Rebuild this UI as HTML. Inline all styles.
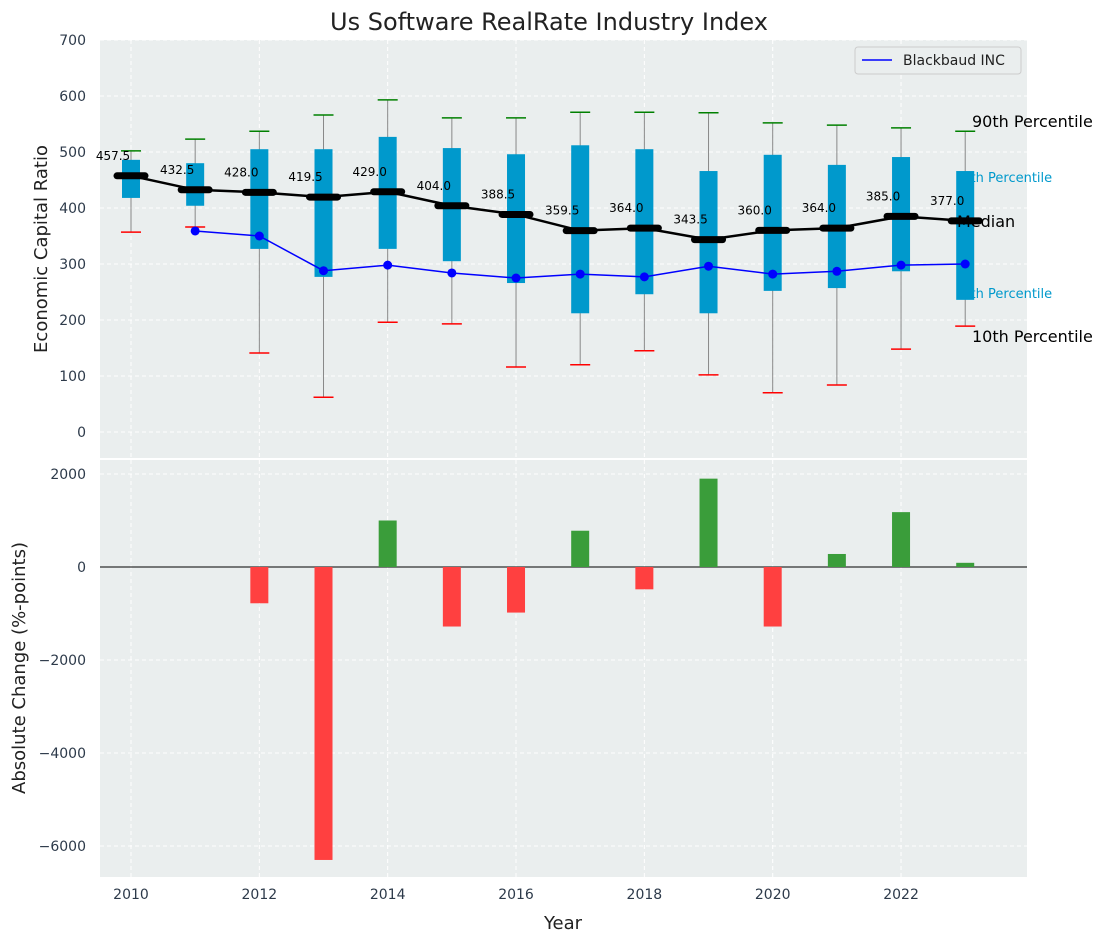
<!DOCTYPE html>
<html><head><meta charset="utf-8"><style>
body{margin:0;background:#fff;font-family:"Liberation Sans","DejaVu Sans",sans-serif}
</style></head><body>
<svg id="c" width="1107" height="942" xmlns="http://www.w3.org/2000/svg" font-family="DejaVu Sans, Liberation Sans, sans-serif"><defs><clipPath id="lc"><rect x="974" y="150" width="133" height="170"/></clipPath></defs></svg>
<script>
const years=[2010,2011,2012,2013,2014,2015,2016,2017,2018,2019,2020,2021,2022,2023];
const p90=[502,523,537,566,593,561,561,571,571,570,552,548,543,537];
const p10=[357,366,141,62,196,193,116,120,145,102,70,84,148,189];
const q3=[486,480,505,505,527,507,496,512,505,466,495,477,491,466];
const q1=[418,404,327,277,327,305,266,212,246,212,252,257,287,236];
const medians=[457.5,432.5,428.0,419.5,429.0,404.0,388.5,359.5,364.0,343.5,360.0,364.0,385.0,377.0];
const bbYears=[2011,2012,2013,2014,2015,2016,2017,2018,2019,2020,2021,2022,2023];
const bbValues=[359,350,288,298,284,275,282,277,296,282,287,298,300];
const changes=[null,null,-780,-6300,1000,-1280,-980,780,-480,1900,-1280,280,1180,90];
const yTicksTop=[0,100,200,300,400,500,600,700];
const yTicksBot=[-6000,-4000,-2000,0,2000];
const xTicks=[2010,2012,2014,2016,2018,2020,2022];

const S=document.getElementById('c');const NS='http://www.w3.org/2000/svg';
function el(t,a,txt){const e=document.createElementNS(NS,t);for(const k in a)e.setAttribute(k,a[k]);if(txt!=null)e.textContent=txt;S.appendChild(e);return e;}
const X=y=>131+(y-2010)*64.17;
const YT=v=>432-0.56*v;
const YB=v=>567-0.0465*v;
const L=100,R=1027;

let t=el('text',{x:549,y:30,'font-size':24,'text-anchor':'middle',fill:'#222'},'Us Software RealRate Industry Index');

let p=el('rect',{x:L,y:40,width:R-L,height:418,fill:'#eaeeee'});

p=el('rect',{x:L,y:460,width:R-L,height:417,fill:'#eaeeee'});

yTicksTop.forEach(v=>{el('line',{x1:L,x2:R,y1:YT(v),y2:YT(v),stroke:'#fff','stroke-dasharray':'4,3'});
 let tk=el('text',{x:86,y:YT(v)+5,'font-size':14,'text-anchor':'end',fill:'#2d3a4a'},v);
 });
yTicksBot.forEach(v=>{el('line',{x1:L,x2:R,y1:YB(v),y2:YB(v),stroke:'#fff','stroke-dasharray':'4,3'});
 let tk=el('text',{x:86,y:YB(v)+5,'font-size':14,'text-anchor':'end',fill:'#2d3a4a'},v<0?'−'+(-v):v);
 });
xTicks.forEach(v=>{el('line',{x1:X(v),x2:X(v),y1:40,y2:458,stroke:'#fff','stroke-dasharray':'4,3'});
 el('line',{x1:X(v),x2:X(v),y1:460,y2:877,stroke:'#fff','stroke-dasharray':'4,3'});
 let tk=el('text',{x:X(v),y:899,'font-size':14,'text-anchor':'middle',fill:'#2d3a4a'},v);
 });
t=el('text',{x:0,y:0,'font-size':18,'text-anchor':'middle',fill:'#222',transform:'translate(47,249) rotate(-90)'},'Economic Capital Ratio');

t=el('text',{x:0,y:0,'font-size':18,'text-anchor':'middle',fill:'#222',transform:'translate(25,668) rotate(-90)'},'Absolute Change (%-points)');

t=el('text',{x:563,y:929,'font-size':18,'text-anchor':'middle',fill:'#222'},'Year');


[['75th Percentile',954,182,13,'#0099cc'],['25th Percentile',954,298,13,'#0099cc']].forEach(a=>{
 let s=el('text',{x:a[1],y:a[2],'font-size':a[3],fill:a[4],'clip-path':'url(#lc)'},a[0]);
 });

years.forEach((y,i)=>{const x=X(y);
 let w=el('line',{x1:x,x2:x,y1:YT(p90[i]),y2:YT(p10[i]),stroke:'#888','stroke-width':1});
 
 let b=el('rect',{x:x-9,y:YT(q3[i]),width:18,height:YT(q1[i])-YT(q3[i]),fill:'#0099cc'});
 
 let g=el('line',{x1:x-10,x2:x+10,y1:YT(p90[i]),y2:YT(p90[i]),stroke:'green','stroke-width':1.5});
 
 let r=el('line',{x1:x-10,x2:x+10,y1:YT(p10[i]),y2:YT(p10[i]),stroke:'red','stroke-width':1.5});
 
});
let ml=el('polyline',{points:years.map((y,i)=>X(y)+','+YT(medians[i])).join(' '),fill:'none',stroke:'#000','stroke-width':2.5});

years.forEach((y,i)=>{const x=X(y);
 let m=el('line',{x1:x-14,x2:x+14,y1:YT(medians[i]),y2:YT(medians[i]),stroke:'#000','stroke-width':7,'stroke-linecap':'round'});
 
 let l=el('text',{x:x-18,y:YT(medians[i])-16,'font-size':12,'text-anchor':'middle',fill:'#000'},medians[i].toFixed(1));
 
});
[['90th Percentile',972,127],['Median',957,227],['10th Percentile',972,342]].forEach(a=>{
 let s=el('text',{x:a[1],y:a[2],'font-size':16,fill:'#000'},a[0]);
 });
let bl=el('polyline',{points:bbYears.map((y,i)=>X(y)+','+YT(bbValues[i])).join(' '),fill:'none',stroke:'blue','stroke-width':1.5});

bbYears.forEach((y,i)=>{let c=el('circle',{cx:X(y),cy:YT(bbValues[i]),r:4.5,fill:'blue'});
 });
let lg=el('rect',{x:855,y:47,width:166,height:27,fill:'#eaeeee',stroke:'#ccc',rx:3});

el('line',{x1:862,x2:892,y1:60,y2:60,stroke:'blue','stroke-width':1.5});
t=el('text',{x:903,y:65,'font-size':14,fill:'#222'},'Blackbaud INC');


el('line',{x1:L,x2:R,y1:YB(0),y2:YB(0),stroke:'#000','stroke-width':1});
years.forEach((y,i)=>{const v=changes[i];if(v==null)return;
 let b=el('rect',{x:X(y)-9,y:Math.min(YB(v),YB(0)),width:18,height:Math.abs(YB(v)-YB(0)),fill:v>=0?'#3a9d3a':'#ff4040'});
 });
</script>
</body></html>
